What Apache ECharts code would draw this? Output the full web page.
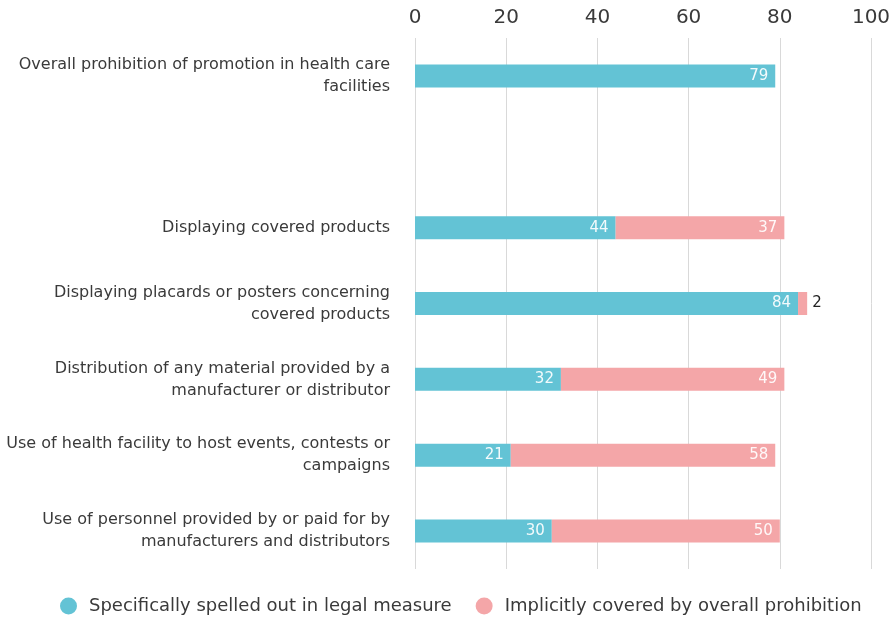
<!DOCTYPE html>
<html><head><meta charset="utf-8">
<script src="https://cdn.jsdelivr.net/npm/echarts@6/dist/echarts.min.js"></script>
<style>html,body{margin:0;padding:0;background:#fff}#c{width:894px;height:620px}</style>
</head><body><div id="c"></div>
<script>
const categories = [
  'Overall prohibition of promotion in health care facilities',
  '',
  'Displaying covered products',
  'Displaying placards or posters concerning covered products',
  'Distribution of any material provided by a manufacturer or distributor',
  'Use of health facility to host events, contests or campaigns',
  'Use of personnel provided by or paid for by manufacturers and distributors'
];
const specific = [79, null, 44, 84, 32, 21, 30];
const implicit = [null, null, 37, 2, 49, 58, 50];
const seriesNames = ['Specifically spelled out in legal measure', 'Implicitly covered by overall prohibition'];
const xTicks = [0, 20, 40, 60, 80, 100];

const FONT = 'DejaVu Sans';
const CAT_SIZE = 16, CAT_WIDTH = 392;
const ctx = document.createElement('canvas').getContext('2d');
ctx.font = CAT_SIZE + 'px "' + FONT + '"';
function wrap(text) {
  const words = text.split(' ');
  const lines = [];
  let cur = '';
  for (const w of words) {
    const t = cur ? cur + ' ' + w : w;
    if (cur && ctx.measureText(t).width > CAT_WIDTH) { lines.push(cur); cur = w; }
    else cur = t;
  }
  if (cur) lines.push(cur);
  return lines.join('\n');
}

const chart = echarts.init(document.getElementById('c'));
function labelFor(v) {
  return {
    show: true,
    position: v < 5 ? 'right' : 'insideRight',
    color: v < 5 ? '#222' : 'rgba(255,255,255,0.92)',
    fontSize: 15, fontFamily: FONT, distance: v < 5 ? 5 : 7
  };
}
chart.setOption({
  animation: false,
  grid: { left: 415, right: 23, top: 38, bottom: 51, outerBoundsMode: 'none' },
  legend: {
    bottom: 0, left: 55,
    icon: 'circle', itemWidth: 17, itemHeight: 17, itemGap: 24,
    textStyle: { fontSize: 18, color: '#3a3a3a', fontFamily: FONT, padding: [0, 0, 0, 7] },
    data: seriesNames
  },
  xAxis: {
    type: 'value', position: 'top', min: 0, max: 100, interval: 20,
    axisLine: { show: false }, axisTick: { show: false },
    axisLabel: { fontSize: 20, color: '#3a3a3a', fontFamily: FONT, margin: 10,
      formatter: v => xTicks.includes(v) ? String(v) : '' },
    splitLine: { lineStyle: { color: '#d9d9d9', width: 1 } }
  },
  yAxis: {
    type: 'category', inverse: true, data: categories,
    axisLine: { show: false }, axisTick: { show: false },
    axisLabel: { fontSize: CAT_SIZE, color: '#3a3a3a', fontFamily: FONT, margin: 25,
      align: 'right', lineHeight: 22, padding: [4, 0, 0, 0], formatter: v => wrap(v) }
  },
  series: [
    { name: seriesNames[0], type: 'bar', stack: 's', barWidth: 23,
      itemStyle: { color: '#63c3d5' },
      data: specific.map(v => v == null ? null : { value: v, label: labelFor(v) }) },
    { name: seriesNames[1], type: 'bar', stack: 's', barWidth: 23,
      itemStyle: { color: '#f4a6a8' },
      data: implicit.map(v => v == null ? null : { value: v, label: labelFor(v) }) }
  ]
});
</script></body></html>
